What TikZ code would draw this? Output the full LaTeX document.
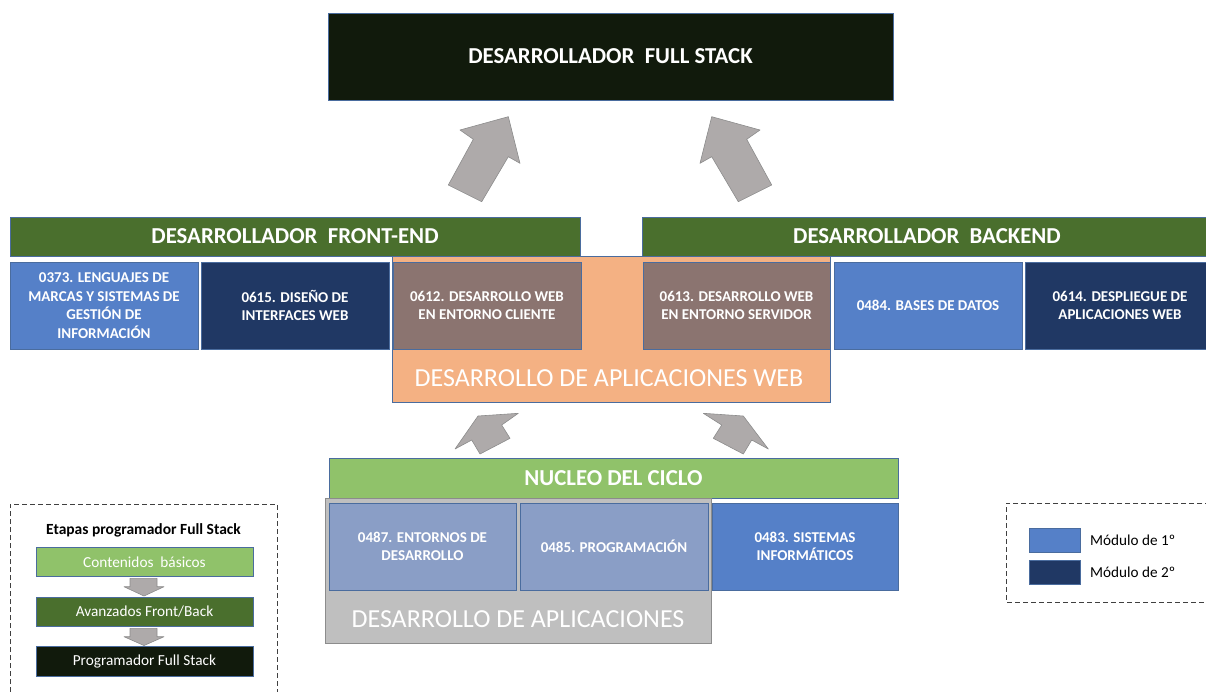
\documentclass[tikz,border=0pt]{standalone}
\usepackage{fontspec}
\setmainfont{Carlito}
\definecolor{blackgreen}{HTML}{111A0C}
\definecolor{dgreen}{HTML}{4A6F2D}
\definecolor{lgreen}{HTML}{90C26A}
\definecolor{lblue}{HTML}{5580C8}
\definecolor{dblue}{HTML}{203864}
\definecolor{brown}{HTML}{8B7470}
\definecolor{orange}{HTML}{F4B183}
\definecolor{lgray}{HTML}{BFBFBF}
\definecolor{gblue}{HTML}{8A9EC6}
\definecolor{arrfill}{HTML}{AEAAAA}
\definecolor{arredge}{HTML}{8C8C8C}
\definecolor{edgeblue}{HTML}{4A6C9E}
\definecolor{dashc}{HTML}{404040}
\tikzset{
  base/.style={inner sep=0pt, outer sep=0pt, anchor=north west},
  mod/.style={base, draw=edgeblue, line width=0.8pt, text=white, align=center,
    font=\bfseries\fontsize{15}{18.5}\selectfont, minimum height=87pt, minimum width=188pt},
  hdr/.style={base, draw=edgeblue, line width=0.8pt, text=white,
    font=\bfseries\fontsize{22.8}{26}\selectfont, minimum height=39pt},
  bg/.style={base, draw=edgeblue, line width=0.8pt},
  bigtxt/.style={inner sep=0pt, text=white, font=\fontsize{26}{30}\selectfont},
  blk/.style={fill=arrfill, draw=arredge, line width=0.6pt, line join=round},
  stage/.style={base, draw=edgeblue, line width=0.6pt, text=white,
    font=\fontsize{15.3}{18}\selectfont, minimum width=217pt, minimum height=29.4pt},
  swatch/.style={base, draw=edgeblue, line width=0.6pt, minimum width=51pt, minimum height=24pt},
  legtxt/.style={inner sep=0pt, anchor=west, text=black, font=\fontsize{15.2}{18}\selectfont},
  frame/.style={draw=dashc, line width=1pt, dash pattern=on 5pt off 3pt}
}
\begin{document}
\begin{tikzpicture}[x=1pt,y=-1pt]
\useasboundingbox (0,0) rectangle (1206,691);
\clip (0,0) rectangle (1206,691);

% top title
\node[hdr, fill=blackgreen, minimum width=565pt, minimum height=87pt] (fs) at (328,13) {DESARROLLADOR\ \ FULL STACK};

% top arrows
\draw[blk] (508.3,116.7) -- (460,130) -- (473.3,139.3) -- (448.3,185) -- (481.7,201.7) -- (508.3,156.7) -- (520,163.3) -- cycle;
\draw[blk] (711.7,116.7) -- (760,130) -- (746.7,139.3) -- (771.7,185) -- (738.3,201.7) -- (711.7,156.7) -- (700,163.3) -- cycle;

% orange background
\node[bg, fill=orange, minimum width=438pt, minimum height=146pt] (webbg) at (392,256) {};
\node[bigtxt] (webtxt) at (609,378) {DESARROLLO DE APLICACIONES WEB};

% headers
\node[hdr, fill=dgreen, minimum width=570pt] (front) at (10,217) {DESARROLLADOR\ \ FRONT-END};
\node[hdr, fill=dgreen, minimum width=570pt] (back) at (642,217) {DESARROLLADOR\ \ BACKEND};

% module boxes row
\node[mod, fill=lblue] (m0373) at (10,262) {0373. LENGUAJES DE\\MARCAS Y SISTEMAS DE\\GESTIÓN DE\\INFORMACIÓN};
\node[mod, fill=dblue] (m0615) at (201,262) {0615. DISEÑO DE\\INTERFACES WEB};
\node[mod, fill=brown] (m0612) at (393,262) {0612. DESARROLLO WEB\\EN ENTORNO CLIENTE};
\node[mod, fill=brown, minimum width=187pt] (m0613) at (643,262) {0613. DESARROLLO WEB\\EN ENTORNO SERVIDOR};
\node[mod, fill=lblue] (m0484) at (834,262) {0484. BASES DE DATOS};
\node[mod, fill=dblue, minimum width=190pt] (m0614) at (1025,262) {0614. DESPLIEGUE DE\\APLICACIONES WEB};

% lower arrows
\draw[blk] (518.3,413.3) -- (478,416) -- (455,449) -- (471.7,440) -- (480,454) -- (510,438.3) -- (501.7,425) -- cycle;
\draw[blk] (703.3,413.3) -- (743.3,416) -- (768.3,449) -- (751.7,440) -- (743.3,454) -- (713.3,438.3) -- (721.7,425) -- cycle;

% nucleo
\node[hdr, fill=lgreen, minimum width=569pt, minimum height=40pt] (nucleo) at (329,458) {NUCLEO DEL CICLO};
\node[base, draw=arredge, line width=0.8pt, fill=lgray, minimum width=386pt, minimum height=145pt] (dambg) at (325,498) {};
\node[bigtxt] (damtxt) at (518,619) {DESARROLLO DE APLICACIONES};
\node[mod, fill=gblue, minimum width=187pt] (m0487) at (329,503) {0487. ENTORNOS DE\\DESARROLLO};
\node[mod, fill=gblue] (m0485) at (520,503) {0485. PROGRAMACIÓN};
\node[mod, fill=lblue, minimum width=186pt] (m0483) at (712,503) {0483. SISTEMAS\\INFORMÁTICOS};

% left legend
\draw[frame] (10,700) -- (10,504) -- (277,504) -- (277,700);
\node[inner sep=0pt, font=\bfseries\fontsize{15.5}{18}\selectfont] (legtitle) at (143.5,530) {Etapas programador Full Stack};
\node[stage, fill=lgreen] (st1) at (36,547.3) {Contenidos\ \ básicos};
\node[stage, fill=dgreen] (st2) at (36,597.3) {Avanzados Front/Back};
\node[stage, fill=blackgreen] (st3) at (36,646.7) {Programador Full Stack};
\draw[blk] (130,578.3) -- (157,578.3) -- (157,586.7) -- (164,586.7) -- (144,596) -- (124,586.7) -- (130,586.7) -- cycle;
\draw[blk] (130,628.3) -- (157,628.3) -- (157,636.7) -- (164,636.7) -- (144,645.5) -- (124,636.7) -- (130,636.7) -- cycle;

% right legend
\draw[frame] (1210,503) -- (1006,503) -- (1006,602) -- (1210,602);
\node[swatch, fill=lblue] (sw1) at (1029,528.3) {};
\node[swatch, fill=dblue] (sw2) at (1029,560.7) {};
\node[legtxt] (lt1) at (1090,540.5) {Módulo de 1º};
\node[legtxt] (lt2) at (1090,572.5) {Módulo de 2º};
\end{tikzpicture}
\end{document}
